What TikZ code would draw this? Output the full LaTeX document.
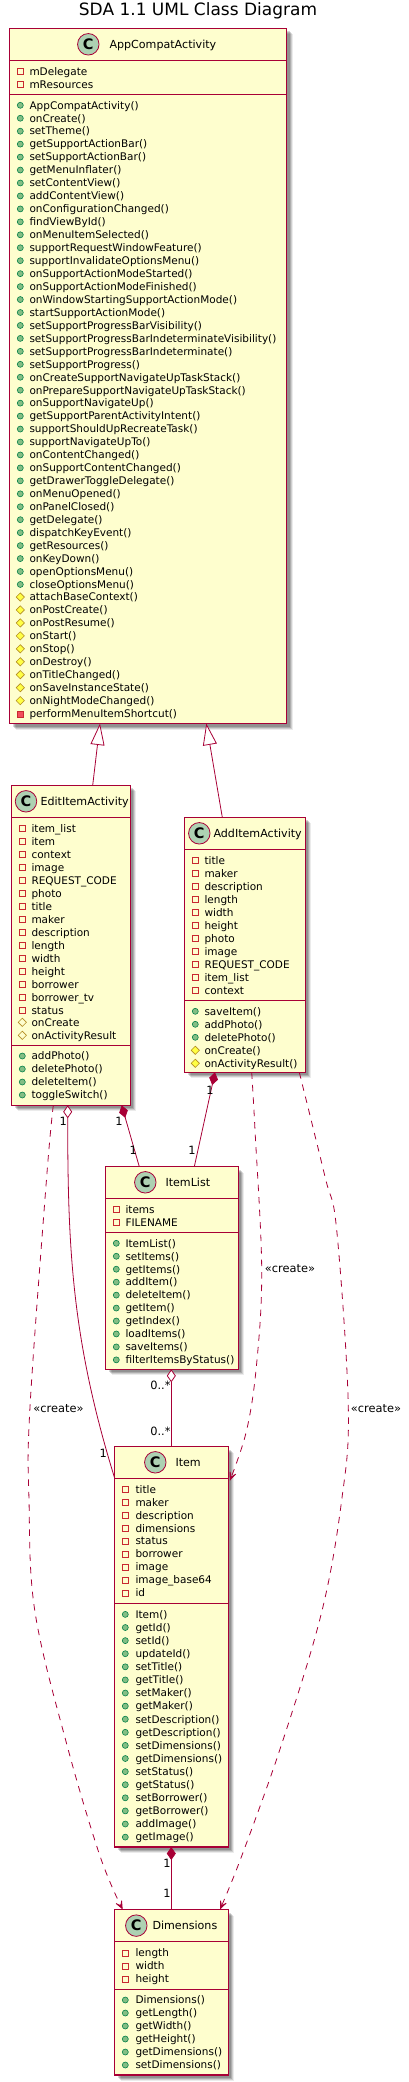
\documentclass[tikz,border=0pt]{standalone}
\usepackage{fontspec}
\setmainfont{DejaVu Sans}
\usetikzlibrary{arrows.meta,shapes.geometric}
\definecolor{umlline}{HTML}{A80036}
\definecolor{umlfill}{HTML}{FEFECE}
\definecolor{spotfill}{HTML}{ADD1B2}
\definecolor{privline}{HTML}{C82930}
\definecolor{privfill}{HTML}{F24D5C}
\definecolor{publine}{HTML}{038048}
\definecolor{pubfill}{HTML}{84BE84}
\definecolor{protline}{HTML}{B38D22}
\definecolor{protfill}{HTML}{FFFF44}
\tikzset{
  x=1pt,y=-1pt,
  classbox/.style={draw=umlline,fill=umlfill,line width=1.2pt,rectangle,inner sep=0,outer sep=0,anchor=north west},
  divider/.style={draw=umlline,line width=1pt},
  spot/.style={circle,draw=umlline,fill=spotfill,line width=.8pt,minimum size=21.5pt,inner sep=0,font=\fontsize{14.5}{15}\selectfont\bfseries,text=black},
  classtitle/.style={anchor=base west,inner sep=0,font=\fontsize{11.1}{13}\selectfont},
  rowtext/.style={anchor=base west,inner sep=0,font=\fontsize{10.5}{12}\selectfont},
  edgelabel/.style={inner sep=0,font=\fontsize{11.4}{13}\selectfont,text=black},
  iconpub/.style={circle,draw=publine,fill=pubfill,line width=.6pt,minimum size=6pt,inner sep=0},
  iconprivf/.style={rectangle,draw=privline,line width=.7pt,minimum size=6pt,inner sep=0},
  iconprivm/.style={rectangle,draw=privline,fill=privfill,line width=.7pt,minimum size=6pt,inner sep=0},
  iconprotm/.style={diamond,draw=protline,fill=protfill,line width=.6pt,minimum size=8.5pt,inner sep=0},
  iconprotf/.style={diamond,draw=protline,line width=.6pt,minimum size=8.5pt,inner sep=0},
  conn/.style={draw=umlline,line width=.8pt},
  dashconn/.style={draw=umlline,line width=.8pt,dash pattern=on 6.5pt off 6pt,-{Stealth[length=12pt,width=10pt,inset=7.5pt]}},
  inherit/.style={conn,-{Triangle[open,fill=white,length=21.5pt,width=14pt]}},
  compos/.style={conn,{Diamond[length=13pt,width=9pt]}-},
  aggreg/.style={conn,{Diamond[open,fill=white,length=13pt,width=9pt]}-},
}
% name, x, y, w, h, divider1, divider2, spot x, spot y offset
\newcommand{\classbox}[9]{%
  \foreach \shoff/\shop in {6/.08,5/.12,4/.16,3/.16}{\fill[black,opacity=\shop] (#2+\shoff,#3+\shoff) rectangle (#2+#4+\shoff,#3+#5+\shoff);}
  \node[classbox,minimum width=#4pt,minimum height=#5pt] (#1) at (#2,#3) {};
  \draw[divider] ([yshift=-#6pt]#1.north west) -- ([yshift=-#6pt]#1.north east);
  \draw[divider] ([yshift=-#7pt]#1.north west) -- ([yshift=-#7pt]#1.north east);
  \node[spot] (#1spot) at (#8,#3+#9) {C};
}
\newcommand{\classname}[4]{\node[classtitle] (#1name) at (#2,#3+4.1) {#4};}
% prefix, icon style, icon x, text x, first y, pitch, list
\newcommand{\rowlist}[7]{%
  \foreach \rowtxt [count=\rowi from 1, evaluate=\rowi as \rowy using {#5+(\rowi-1)*#6}] in {#7}{%
    \node[#2] (#1i\rowi) at (#3,\rowy) {};
    \node[rowtext] (#1t\rowi) at (#4,\rowy+3.8) {\rowtxt};
  }%
}
\begin{document}
\begin{tikzpicture}
\useasboundingbox (0,0) rectangle (408,2082);
\node[inner sep=0,font=\fontsize{17}{20}\selectfont] (diagramtitle) at (198,11) {SDA 1.1 UML Class Diagram};

% AppCompatActivity
\classbox{app}{9.5}{28.5}{277}{695}{32.2}{66.2}{88.3}{15.8}
\classname{app}{109.3}{44.3}{AppCompatActivity}
\rowlist{appf}{iconprivf}{20.3}{29.3}{71.3}{13}{mDelegate,mResources}
\rowlist{appm}{iconpub}{20.3}{29.3}{105.3}{12.95}{AppCompatActivity(),onCreate(),setTheme(),getSupportActionBar(),setSupportActionBar(),getMenuInflater(),setContentView(),addContentView(),onConfigurationChanged(),findViewById(),onMenuItemSelected(),supportRequestWindowFeature(),supportInvalidateOptionsMenu(),onSupportActionModeStarted(),onSupportActionModeFinished(),onWindowStartingSupportActionMode(),startSupportActionMode(),setSupportProgressBarVisibility(),setSupportProgressBarIndeterminateVisibility(),setSupportProgressBarIndeterminate(),setSupportProgress(),onCreateSupportNavigateUpTaskStack(),onPrepareSupportNavigateUpTaskStack(),onSupportNavigateUp(),getSupportParentActivityIntent(),supportShouldUpRecreateTask(),supportNavigateUpTo(),onContentChanged(),onSupportContentChanged(),getDrawerToggleDelegate(),onMenuOpened(),onPanelClosed(),getDelegate(),dispatchKeyEvent(),getResources(),onKeyDown(),openOptionsMenu(),closeOptionsMenu()}
\rowlist{appp}{iconprotm}{20.3}{29.3}{597}{12.95}{attachBaseContext(),onPostCreate(),onPostResume(),onStart(),onStop(),onDestroy(),onTitleChanged(),onSaveInstanceState(),onNightModeChanged()}
\rowlist{appx}{iconprivm}{20.3}{29.3}{714}{13}{performMenuItemShortcut()}

% EditItemActivity
\classbox{edit}{11.7}{785.3}{118.6}{320}{32}{260.4}{26}{16}
\classname{edit}{40.3}{801.3}{EditItemActivity}
\rowlist{editf}{iconprivf}{22.3}{31.3}{828.3}{13}{item\_list,item,context,image,REQUEST\_CODE,photo,title,maker,description,length,width,height,borrower,borrower\_tv,status}
\rowlist{editg}{iconprotf}{22.3}{31.3}{1022.3}{13}{onCreate,onActivityResult}
\rowlist{editm}{iconpub}{22.3}{31.3}{1056}{13}{addPhoto(),deletePhoto(),deleteItem(),toggleSwitch()}

% AddItemActivity
\classbox{add}{184.7}{817.3}{120.6}{255}{32}{182.7}{199.3}{16}
\classname{add}{213.3}{833.3}{AddItemActivity}
\rowlist{addf}{iconprivf}{195.3}{204.3}{860.3}{13}{title,maker,description,length,width,height,photo,image,REQUEST\_CODE,item\_list,context}
\rowlist{addm}{iconpub}{195.3}{204.3}{1011.3}{13}{saveItem(),addPhoto(),deletePhoto()}
\rowlist{addp}{iconprotm}{195.3}{204.3}{1050.3}{13}{onCreate(),onActivityResult()}

% ItemList
\classbox{list}{105.7}{1166.7}{132.6}{202.6}{31.6}{65.6}{145.3}{15.6}
\classname{list}{165.3}{1182.3}{ItemList}
\rowlist{listf}{iconprivf}{116.3}{125.3}{1209.3}{13}{items,FILENAME}
\rowlist{listm}{iconpub}{116.3}{125.3}{1243.3}{12.95}{ItemList(),setItems(),getItems(),addItem(),deleteItem(),getItem(),getIndex(),loadItems(),saveItems(),filterItemsByStatus()}

% Item
\classbox{item}{114.7}{1446.7}{113.6}{400.3}{31.6}{156.3}{155.3}{15.6}
\classname{item}{175.3}{1462.3}{Item}
\rowlist{itemf}{iconprivf}{125.3}{135.3}{1489.3}{12.97}{title,maker,description,dimensions,status,borrower,image,image\_base64,id}
\rowlist{itemm}{iconpub}{125.3}{135.3}{1614.4}{13.1}{Item(),getId(),setId(),updateId(),setTitle(),getTitle(),setMaker(),getMaker(),setDescription(),getDescription(),setDimensions(),getDimensions(),setStatus(),getStatus(),setBorrower(),getBorrower(),addImage(),getImage()}

% Dimensions
\classbox{dim}{114.7}{1909.5}{113.6}{165.5}{32.2}{79.9}{136.3}{16.1}
\classname{dim}{152.3}{1925.6}{Dimensions}
\rowlist{dimf}{iconprivf}{125.3}{135.3}{1953}{13}{length,width,height}
\rowlist{dimm}{iconpub}{125.3}{135.3}{2000}{13}{Dimensions(),getLength(),getWidth(),getHeight(),getDimensions(),setDimensions()}

% connector ends on the class borders
\coordinate (appSa) at ([xshift=90.5pt]app.south west);
\coordinate (appSb) at ([xshift=196.8pt]app.south west);
\coordinate (editNa) at ([xshift=81pt]edit.north west);
\coordinate (addNa) at ([xshift=37.6pt]add.north west);
\coordinate (addSa) at ([xshift=30.3pt]add.south west);
\coordinate (addSb) at ([xshift=67pt]add.south west);
\coordinate (addSc) at ([xshift=114.6pt]add.south west);
\coordinate (editSa) at ([xshift=41.6pt]edit.south west);
\coordinate (editSb) at ([xshift=56pt]edit.south west);
\coordinate (editSc) at ([xshift=110pt]edit.south west);
\coordinate (listNa) at ([xshift=33.6pt]list.north west);
\coordinate (listNb) at ([xshift=88.6pt]list.north west);
\coordinate (listSa) at ([xshift=65.6pt]list.south west);
\coordinate (itemNa) at ([xshift=56.6pt]item.north west);
\coordinate (itemSa) at ([xshift=56.6pt]item.south west);
\coordinate (itemWa) at ([yshift=-31.6pt]item.north west);
\coordinate (itemEa) at ([xshift=1.5pt,yshift=-34pt]item.north east);
\coordinate (dimNa) at ([xshift=8pt]dim.north west);
\coordinate (dimNb) at ([xshift=56.6pt]dim.north west);
\coordinate (dimNc) at ([xshift=105.3pt]dim.north west);

\draw[inherit] (editNa) -- (appSa);
\draw[inherit] (addNa) -- (appSb);
\draw[compos] (addSa) -- (listNb);
\draw[compos] (editSc) -- (listNa);
\draw[aggreg] (listSa) -- (itemNa);
\draw[compos] (itemSa) -- (dimNb);
\draw[aggreg] (editSb) .. controls (67.7,1250) and (72,1340) .. (itemWa);
\draw[dashconn] plot[smooth,tension=.6] coordinates {(editSa) (46.7,1176.7) (30,1407) (29,1500) (35,1612) (66.7,1744) (100,1856) (dimNa)};
\draw[dashconn] plot[smooth,tension=.6] coordinates {(addSb) (255,1130) (261.7,1268.7) (256.7,1363) (246.7,1430) (itemEa)};
\draw[dashconn] plot[smooth,tension=.6] coordinates {(addSc) (325,1176.7) (336.7,1230) (348.3,1406.7) (341.7,1500) (321.7,1612) (281.7,1744) (241.7,1856) (dimNc)};

\node[edgelabel] (la1) at (210,1090) {1};
\node[edgelabel] (la2) at (192,1150.7) {1};
\node[edgelabel] (le1) at (119,1121.7) {1};
\node[edgelabel] (le2) at (133.3,1150) {1};
\node[edgelabel] (le3) at (63.3,1121.7) {1};
\node[edgelabel] (le4) at (103.3,1453) {1};
\node[edgelabel,anchor=east] (ll1) at (170.7,1385.7) {0..*};
\node[edgelabel,anchor=east] (ll2) at (170.7,1431.7) {0..*};
\node[edgelabel] (li1) at (167,1863) {1};
\node[edgelabel] (li2) at (167,1893) {1};
\node[edgelabel] (cr1) at (58.5,1408.7) {«create»};
\node[edgelabel] (cr2) at (290,1268.7) {«create»};
\node[edgelabel] (cr3) at (376,1408.7) {«create»};
\end{tikzpicture}
\end{document}
